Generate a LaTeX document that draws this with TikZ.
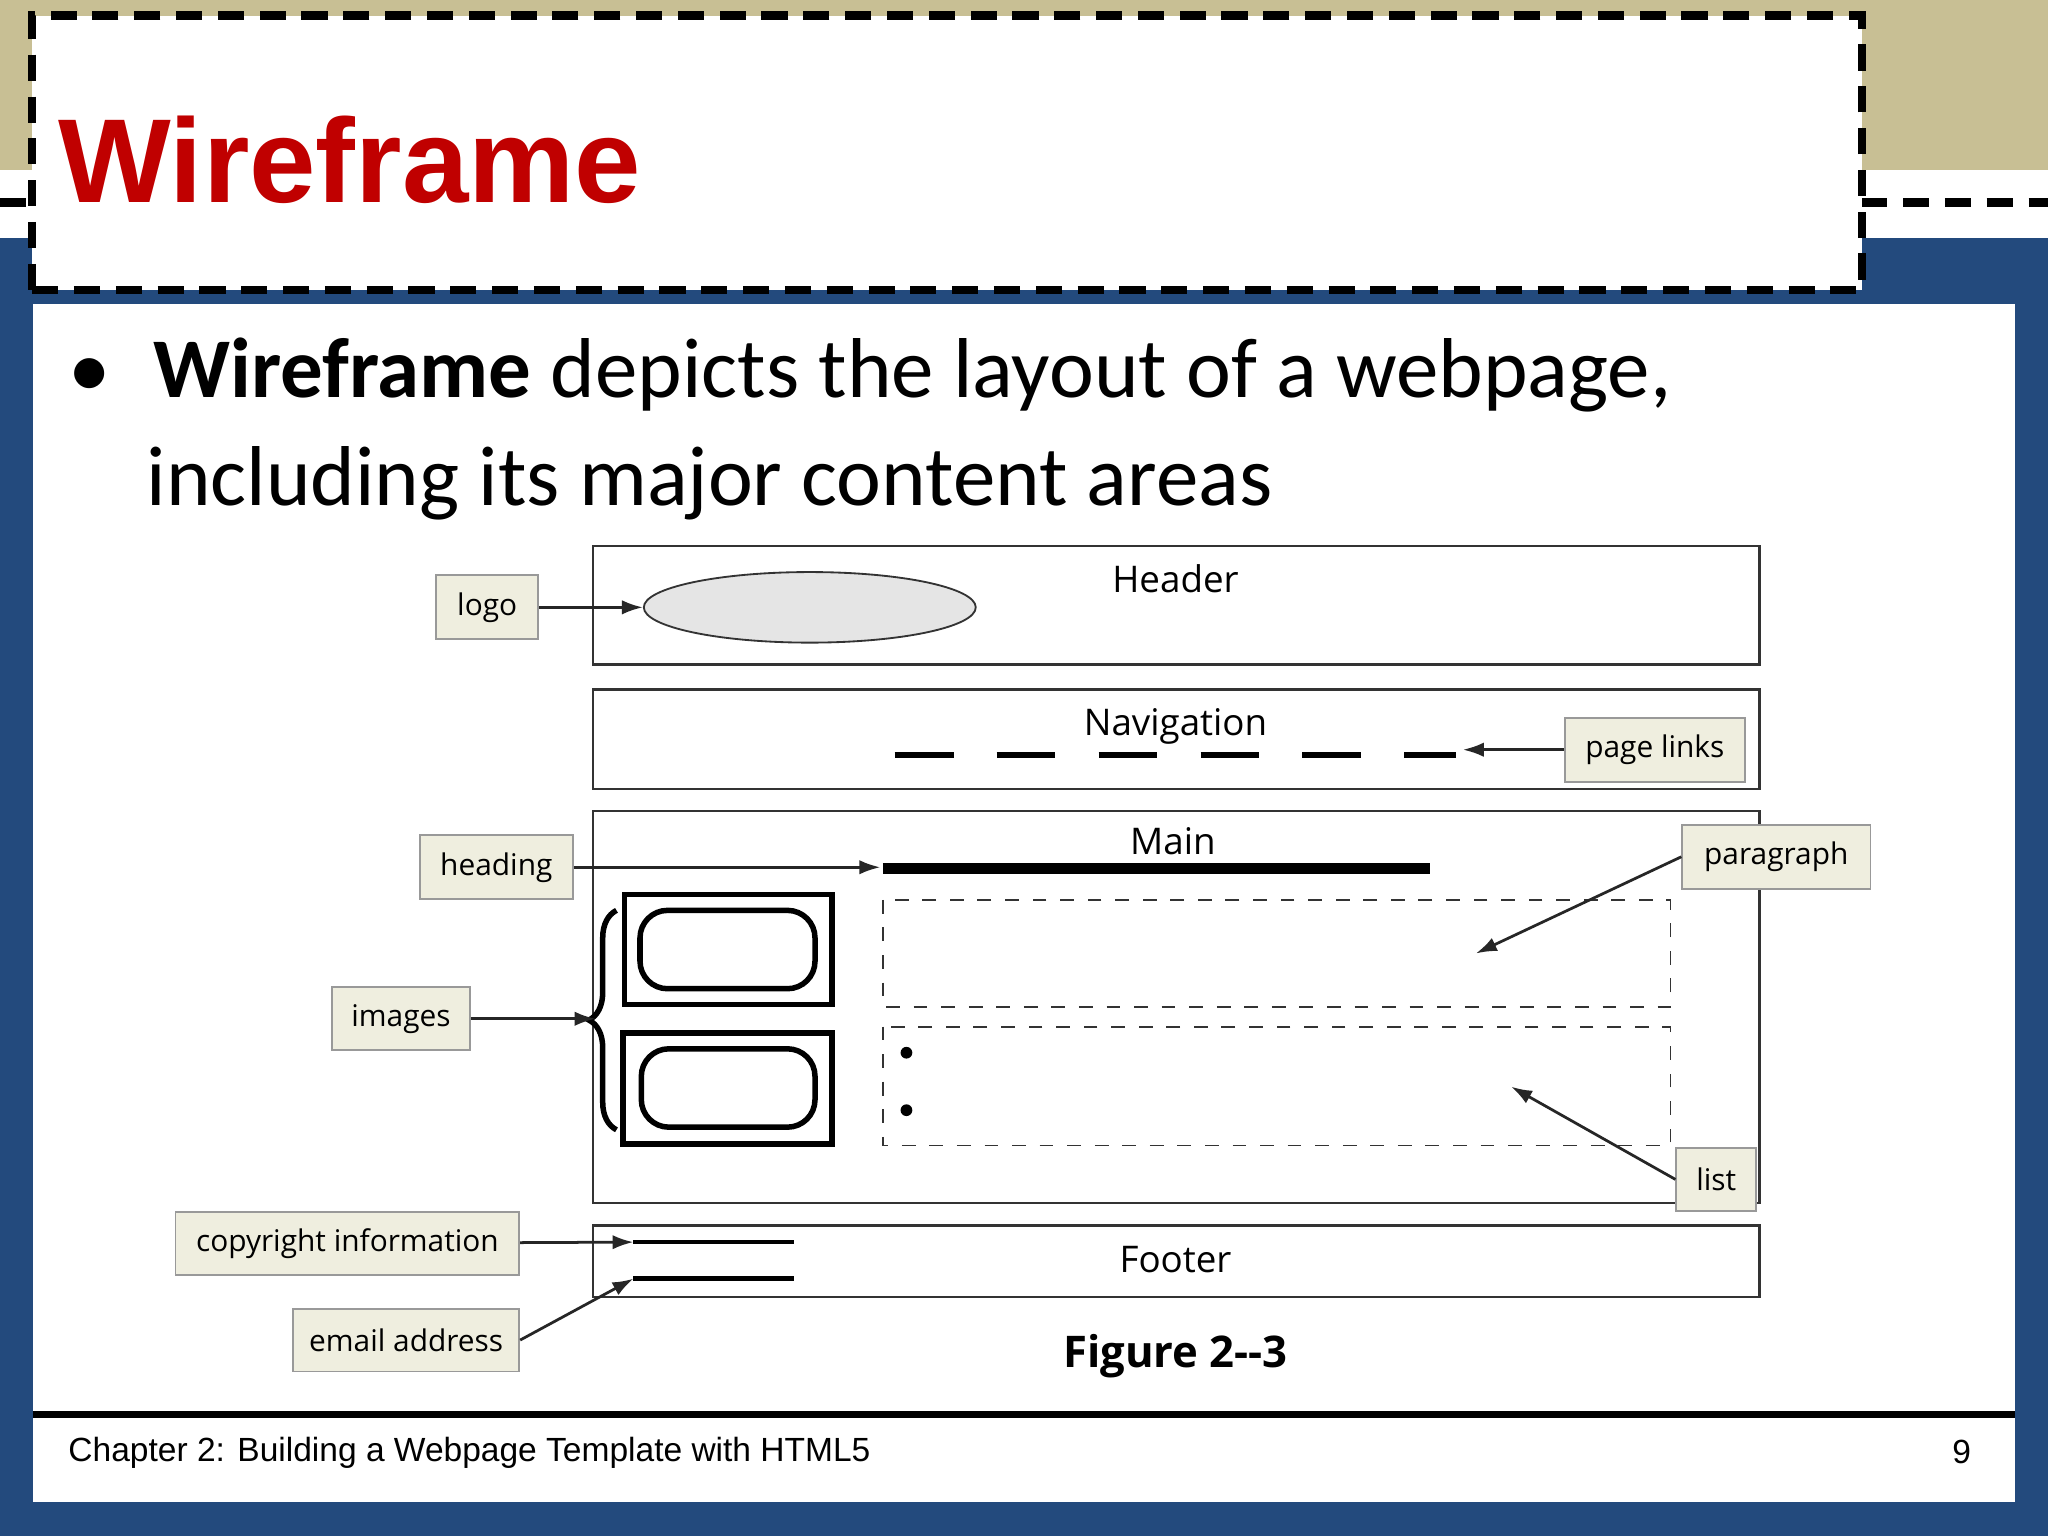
\documentclass[tikz,border=0pt]{standalone}
\usepackage{fontspec}
\setmainfont{Carlito}
\newfontfamily\arialfont{Liberation Sans}
\newfontfamily\figfont{Open Sans}
\usetikzlibrary{positioning, arrows.meta, decorations.pathreplacing, shapes}
\definecolor{tanband}{HTML}{C8BF94}
\definecolor{slideblue}{HTML}{234A7D}
\definecolor{titlered}{HTML}{C00000}
\definecolor{tagfill}{HTML}{EFEEDF}
\tikzset{
  tag/.style={draw=gray!80, fill=tagfill, inner sep=0pt, font=\figfont\fontsize{6.5}{7}\selectfont},
  area/.style={draw=black!80, line width=0.6pt},
  areatitle/.style={font=\figfont\fontsize{8}{9}\selectfont, anchor=north},
  pointer/.style={-{Latex[length=1.6mm,width=1.1mm]}, line width=0.6pt, black!85},
  dashbox/.style={draw=black!80, dashed, line width=0.4pt}
}
\begin{document}
\begin{tikzpicture}[x=0.01cm, y=-0.01cm]
\useasboundingbox (0,0) rectangle (1568,1176);
% slide background
\fill[slideblue] (0,0) rectangle (1568,1176);
\fill[tanband] (0,0) rectangle (1568,130);
\fill[white] (0,130) rectangle (1568,182);
\fill[white] (25,233) rectangle (1543,1150);
\draw[line width=1.8pt, dash pattern=on 0.2cm off 0.12cm] (0,155) -- (25,155) (1425,155) -- (1568,155);
\node[draw, fill=white, line width=1.8pt, dash pattern=on 0.2cm off 0.12cm, minimum width=14cm, minimum height=2.1cm, inner sep=0pt] (titlebox) at (725,117) {};
\node[anchor=west, text=titlered, font=\arialfont\bfseries\fontsize{26}{30}\selectfont] (title) at (32,122) {Wireframe};
% bullet text
\node[anchor=west, font=\fontsize{18.5}{22}\selectfont] (bullet) at (40,287) {\textbullet\hspace{0.5em}\textbf{Wireframe} depicts the layout of a webpage,};
\node[anchor=west, font=\fontsize{18.5}{22}\selectfont] (bullet2) at (100,370) {including its major content areas};
% footer of slide
\draw[line width=1.6pt] (25,1083) -- (1543,1083);
\node[anchor=west, font=\arialfont\fontsize{7.3}{8}\selectfont] (chapter) at (40,1112) {Chapter 2: Building a Webpage Template with HTML5};
\node[font=\arialfont\fontsize{7.3}{8}\selectfont] (pagenum) at (1502,1112) {9};

% wireframe areas
\draw[area] (454,418) rectangle (1347,509);
\node[areatitle] (header) at (900,420) {Header};
\draw[area] (454,528) rectangle (1347,604);
\node[areatitle] (nav) at (900,530) {Navigation};
\draw[area] (454,621) rectangle (1347,921);
\node[areatitle] (main) at (898,621) {Main};
\draw[area] (454,938) rectangle (1347,993);
\node[font=\figfont\fontsize{8}{9}\selectfont] (footer) at (900,964) {Footer};

% header contents
\node[ellipse, draw=black!80, fill=gray!20, minimum width=2.54cm, minimum height=0.54cm, inner sep=0pt] (logoshape) at (620,465) {};
\node[tag, minimum width=0.78cm, minimum height=0.49cm] (logo) at (373,465) {logo};
\draw[pointer] (logo) -- (logoshape);

% navigation contents
\draw[line width=1.3pt, dash pattern=on 0.45cm off 0.33cm] (685,578) -- (1115,578);
\coordinate (navend) at (1120,574);
\node[tag, minimum width=1.38cm, minimum height=0.49cm] (pagelinks) at (1267,574) {page links};
\draw[pointer] (pagelinks) -- (navend);

% main contents
\draw[line width=2.4pt] (676,665) -- (1095,665);
\node[tag, minimum width=1.17cm, minimum height=0.49cm] (heading) at (380,664) {heading};
\coordinate (headend) at (674,664);
\draw[pointer] (heading) -- (headend);
\draw[dashbox] (676,689) rectangle (1279,771);
\draw[dashbox] (676,786) rectangle (1279,877);
\fill (694,806) circle (4.5) (694,850) circle (4.5);
\node[tag, minimum width=1.44cm, minimum height=0.49cm] (paragraph) at (1360,656) {paragraph};
\coordinate (parend) at (1130,730);
\draw[pointer] (paragraph.west) -- (parend);
\node[tag, minimum width=0.61cm, minimum height=0.48cm] (list) at (1314,903) {list};
\coordinate (listend) at (1157,832);
\draw[pointer] (list.west) -- (listend);
\draw[line width=1.2pt] (478,685) rectangle (637,769);
\draw[line width=1.2pt, rounded corners=6pt] (490,697) rectangle (624,757);
\draw[line width=1.2pt] (477,791) rectangle (637,876);
\draw[line width=1.2pt, rounded corners=6pt] (491,803) rectangle (624,863);
\draw[line width=1.2pt, decorate, decoration={brace, amplitude=6pt}] (472,865) -- (472,697);
\node[tag, minimum width=1.06cm, minimum height=0.48cm] (images) at (307,780) {images};
\coordinate (imgend) at (456,780);
\draw[pointer] (images) -- (imgend);

% footer contents
\draw[line width=1pt] (485,951) -- (608,951) (485,979) -- (608,979);
\coordinate (copyend) at (485,951);
\coordinate (mailend) at (485,979);
\node[tag, minimum width=2.63cm, minimum height=0.48cm] (copyright) at (266,952) {copyright information};
\draw[pointer] (copyright) -- (copyend);
\node[tag, minimum width=1.73cm, minimum height=0.48cm] (email) at (311,1026) {email address};
\draw[pointer] (email.east) -- (mailend);

\node[font=\figfont\bfseries\fontsize{9.5}{11}\selectfont] (figure) at (900,1038) {Figure 2--3};
\end{tikzpicture}
\end{document}
